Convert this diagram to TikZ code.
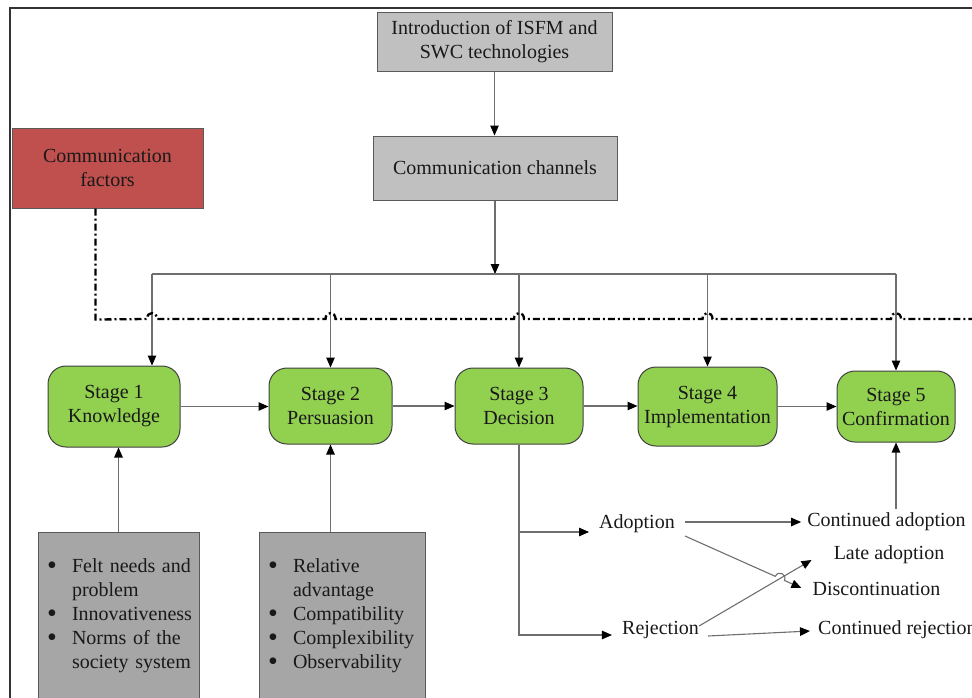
\documentclass[tikz,border=0pt]{standalone}
\usepackage{fontspec}
\setmainfont{Liberation Serif}
\usetikzlibrary{arrows.meta,calc}
\definecolor{boxgray}{HTML}{C0C0C0}
\definecolor{darkgraybox}{HTML}{A6A6A6}
\definecolor{factred}{HTML}{C0504D}
\definecolor{stagegreen}{HTML}{92D050}
\definecolor{edgegray}{HTML}{5A5A5A}
\definecolor{linegray}{HTML}{6E6E6E}
\newcommand{\bul}{\raisebox{-2.5pt}{\fontsize{28}{24}\selectfont\textbullet}}
\hfuzz=100pt
\begin{document}
\begin{tikzpicture}[x=1pt,y=-1pt,
  txt/.style={font=\fontsize{20}{24}\selectfont, text=black!90},
  rectbox/.style={txt, draw=edgegray, line width=1pt, inner sep=0pt, align=center},
  stagebox/.style={rectbox, fill=stagegreen, rounded corners=18pt, draw=black!75},
  conn/.style={draw=linegray, line width=1.1pt, -{Triangle[length=10pt,width=8.5pt,color=black]}},
  pline/.style={draw=linegray, line width=1.1pt},
  lbl/.style={txt, inner sep=0pt},
  dashdot/.style={line width=2.3pt, black, dash pattern=on 7pt off 3pt on 2pt off 3pt},
]
\useasboundingbox (0,0) rectangle (972,697);

% frame
\draw[line width=1.8pt, black!80] (10,700) -- (10,8) -- (975,8);

% top boxes
\node[rectbox, fill=boxgray, minimum width=235pt, minimum height=59pt] (intro) at (494.5,41.5) {Introduction of ISFM and\\SWC technologies};
\node[rectbox, fill=boxgray, minimum width=244pt, minimum height=64pt] (chan) at (495,168) {Communication channels};
\node[rectbox, fill=factred, minimum width=191pt, minimum height=80pt] (cf) at (107.5,168) {Communication\\factors};

% stages
\node[stagebox, minimum width=132pt, minimum height=81pt] (s1) at (114,406.5) {Stage 1\\Knowledge};
\node[stagebox, minimum width=123pt, minimum height=76pt] (s2) at (330.5,406) {Stage 2\\Persuasion};
\node[stagebox, minimum width=128pt, minimum height=76pt] (s3) at (519,406) {Stage 3\\Decision};
\node[stagebox, minimum width=139pt, minimum height=79pt] (s4) at (707.5,406.5) {Stage 4\\Implementation};
\node[stagebox, minimum width=118pt, minimum height=71pt] (s5) at (896,406.5) {Stage 5\\Confirmation};

% bottom boxes
\node[rectbox, fill=darkgraybox, minimum width=161pt, minimum height=167pt, text width=143pt, inner xsep=9pt, align=left] (b1) at (118.5,615.5)
 {\begin{tabular}{@{}p{25pt}@{}p{150pt}@{}}
  \bul & Felt needs and\newline problem\\
  \bul & Innovativeness\\
  \bul & Norms of the\newline society system
  \end{tabular}};
\node[rectbox, fill=darkgraybox, minimum width=166pt, minimum height=167pt, text width=148pt, inner xsep=9pt, align=left] (b2) at (342,615.5)
 {\begin{tabular}{@{}p{25pt}@{}p{150pt}@{}}
  \bul & Relative\newline advantage\\
  \bul & Compatibility\\
  \bul & Complexibility\\
  \bul & Observability
  \end{tabular}};

% decision outcomes
\node[lbl] (ad) at (637,524) {Adoption};
\node[lbl] (rej) at (660.5,630) {Rejection};
\node[lbl] (cad) at (886.5,522) {Continued adoption};
\node[lbl] (late) at (889,555) {Late adoption};
\node[lbl] (disc) at (876.5,589) {Discontinuation};
\node[lbl, anchor=west] (crej) at (818,630) {Continued rejection};

% connectors top
\draw[conn] (intro.south) -- (intro.south |- chan.north);
\coordinate (busL) at (152,274);
\coordinate (busR) at (896,274);
\draw[conn] (chan.south) -- (chan.south |- busL);
\draw[pline] (busL) -- (busR);
\draw[conn] (busL) -- (busL |- s1.north);
\foreach \s in {s2,s3,s4,s5} \draw[conn] (\s.north |- busL) -- (\s.north);

% stage chain
\draw[conn] (s1.east) -- (s1.east -| s2.west);
\draw[conn] (s2.east) -- (s2.east -| s3.west);
\draw[conn] (s3.east) -- (s3.east -| s4.west);
\draw[conn] (s4.east) -- (s4.east -| s5.west);

% bottom boxes to stages
\draw[conn] (b1.north) -- (b1.north |- s1.south);
\draw[conn] (s2.south |- b2.north) -- (s2.south);
\draw[conn] ($(s5.south |- cad.north)+(0,-4)$) -- (s5.south);

% decision tree
\draw[conn] (s3.south) -- ($(s3.south |- rej)+(0,5)$) -- ($(rej.west)+(-10,5)$);
\draw[conn] ($(s3.south |- ad)+(0,8)$) -- ($(ad.west)+(-10,8)$);
\draw[conn] ($(ad.east)+(10,-2)$) -- ($(cad.west)+(-6,0)$);
\coordinate (pa) at ($(ad.east)+(10,12)$);
\coordinate (pb) at ($(disc.west)+(-11,-1)$);
\coordinate (bs) at ($(pa)!0.776!(pb)$);
\coordinate (be) at ($(pa)!0.854!(pb)$);
\draw[conn] (pa) -- (bs) .. controls ($(bs)+(2.8,-6.4)$) and ($(be)+(2.8,-6.4)$) .. (be) -- (pb);
\draw[conn] ($(rej.east)+(0,-4)$) -- ($(late.west)+(-22,5)$);
\draw[conn] ($(rej.east)+(9,6)$) -- ($(crej.west)+(-8,1)$);

% communication factors dash-dot line
\coordinate (dashend) at (975,319);
\draw[dashdot] ($(cf.south)+(-12,0)$) -- ($(cf.south)+(-12,111)$)
  \foreach \x in {152,330.5,519,707.5,896}{ -- (\x-5,319) .. controls (\x-5,311) and (\x+5,311) .. (\x+5,319)} -- (dashend);
\end{tikzpicture}
\end{document}
